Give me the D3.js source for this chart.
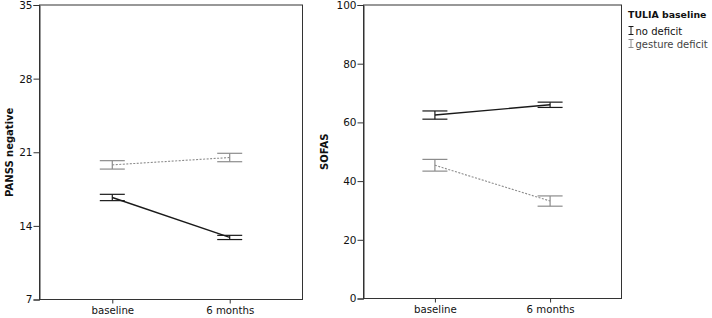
<!DOCTYPE html>
<html>
<head>
<meta charset="utf-8">
<script src="https://cdn.jsdelivr.net/npm/d3@7"></script>
<style>
  body { margin: 0; background: #fff; }
  text { font-family: "DejaVu Sans", Verdana, sans-serif; }
</style>
</head>
<body>
<div id="chart"></div>
<script>
// ---- data ----
const timepoints = ["baseline", "6 months"];
const groupNames = ["no deficit", "gesture deficit"];

const pansTicks = [7, 14, 21, 28, 35];
const pansNoDeficitMean = [16.7, 12.9];
const pansNoDeficitErr  = [0.3, 0.2];
const pansGestureMean   = [19.8, 20.5];
const pansGestureErr    = [0.4, 0.4];

const sofasTicks = [0, 20, 40, 60, 80, 100];
const sofasNoDeficitMean = [62.5, 66.0];
const sofasNoDeficitErr  = [1.4, 0.9];
const sofasGestureMean   = [45.4, 33.2];
const sofasGestureErr    = [2.0, 1.75];

const W = 712, H = 318;
const FONT = '"DejaVu Sans", Verdana, sans-serif';
const groupColor = ["#1a1a1a", "#8c8c8c"];
const groupDash = [null, "2,1.5"];

const svg = d3.select("#chart").append("svg")
    .attr("width", W).attr("height", H);

function drawPanel(opts) {
    // opts: left, right, top, bottom, domain, ticks, label, labelX, series
    const x = d3.scalePoint()
        .domain(timepoints)
        .range([opts.left, opts.right])
        .padding(0.62);
    const y = d3.scaleLinear()
        .domain(opts.domain)
        .range([opts.bottom, opts.top]);

    const g = svg.append("g");

    // frame
    g.append("rect")
        .attr("x", opts.left).attr("y", opts.top)
        .attr("width", opts.right - opts.left)
        .attr("height", opts.bottom - opts.top)
        .attr("fill", "none")
        .attr("stroke", "#333")
        .attr("stroke-width", 1);

    // y axis
    const yAxis = g.append("g")
        .attr("transform", `translate(${opts.left},0)`)
        .call(d3.axisLeft(y).tickValues(opts.ticks).tickSize(6).tickPadding(1));
    yAxis.select(".domain").attr("stroke", "#333");
    yAxis.selectAll(".tick line").attr("stroke", "#333");
    yAxis.selectAll(".tick text").attr("font-size", 10.5).attr("fill", "#111")
        .style("font-family", FONT);

    // x axis: short ticks below the frame, then labels
    const xAxis = g.append("g")
        .attr("transform", `translate(0,${opts.bottom})`)
        .call(d3.axisBottom(x).tickSize(4).tickPadding(3));
    xAxis.select(".domain").remove();
    xAxis.selectAll(".tick line").attr("stroke", "#333");
    xAxis.selectAll(".tick text").attr("font-size", 10.2).attr("fill", "#111")
        .style("font-family", FONT);

    // y label
    g.append("text")
        .attr("transform", `translate(${opts.labelX},${(opts.top + opts.bottom) / 2}) rotate(-90)`)
        .attr("text-anchor", "middle")
        .attr("font-size", 10)
        .attr("font-weight", "bold")
        .attr("fill", "#111")
        .text(opts.label);

    const capHalf = 12.5;
    opts.series.forEach((s, gi) => {
        const pts = timepoints.map((t, i) => ({ t: t, m: s.mean[i], e: s.err[i] }));

        // mean line
        g.append("path")
            .datum(pts)
            .attr("fill", "none")
            .attr("stroke", groupColor[gi])
            .attr("stroke-width", gi === 0 ? 1.4 : 1.1)
            .attr("stroke-dasharray", groupDash[gi])
            .attr("d", d3.line().x(d => x(d.t)).y(d => y(d.m)));

        // error bars
        const eb = g.append("g").selectAll("g")
            .data(pts).join("g")
            .attr("stroke", groupColor[gi])
            .attr("stroke-width", 1.2)
            .attr("fill", "none");
        eb.append("line")
            .attr("x1", d => x(d.t)).attr("x2", d => x(d.t))
            .attr("y1", d => y(d.m - d.e)).attr("y2", d => y(d.m + d.e));
        eb.append("line")
            .attr("x1", d => x(d.t) - capHalf).attr("x2", d => x(d.t) + capHalf)
            .attr("y1", d => y(d.m + d.e)).attr("y2", d => y(d.m + d.e));
        eb.append("line")
            .attr("x1", d => x(d.t) - capHalf).attr("x2", d => x(d.t) + capHalf)
            .attr("y1", d => y(d.m - d.e)).attr("y2", d => y(d.m - d.e));
    });
}

drawPanel({
    left: 39.5, right: 302.5, top: 5, bottom: 299.5,
    domain: [7, 35], ticks: pansTicks, label: "PANSS negative", labelX: 12.5,
    series: [
        { mean: pansNoDeficitMean, err: pansNoDeficitErr },
        { mean: pansGestureMean, err: pansGestureErr }
    ]
});

drawPanel({
    left: 363.5, right: 621.5, top: 5, bottom: 298.5,
    domain: [0, 100], ticks: sofasTicks, label: "SOFAS", labelX: 328,
    series: [
        { mean: sofasNoDeficitMean, err: sofasNoDeficitErr },
        { mean: sofasGestureMean, err: sofasGestureErr }
    ]
});

// legend
const legend = svg.append("g").attr("transform", "translate(628,0)");
legend.append("text")
    .attr("x", 0).attr("y", 17.5)
    .attr("font-size", 9.4).attr("font-weight", "bold").attr("fill", "#111")
    .text("TULIA baseline");
const rows = legend.selectAll("g.row")
    .data(groupNames).join("g")
    .attr("class", "row")
    .attr("transform", (d, i) => `translate(0,${30.5 + i * 13})`);
rows.append("path")
    .attr("d", "M0.5,-4H5.5M3,-4V4M0.5,4H5.5")
    .attr("fill", "none")
    .attr("stroke", (d, i) => groupColor[i])
    .attr("stroke-width", 1);
rows.append("text")
    .attr("x", 7.5).attr("y", 4)
    .attr("font-size", 10)
    .attr("fill", (d, i) => i === 0 ? "#111" : "#444")
    .text(d => d);
</script>
</body>
</html>
